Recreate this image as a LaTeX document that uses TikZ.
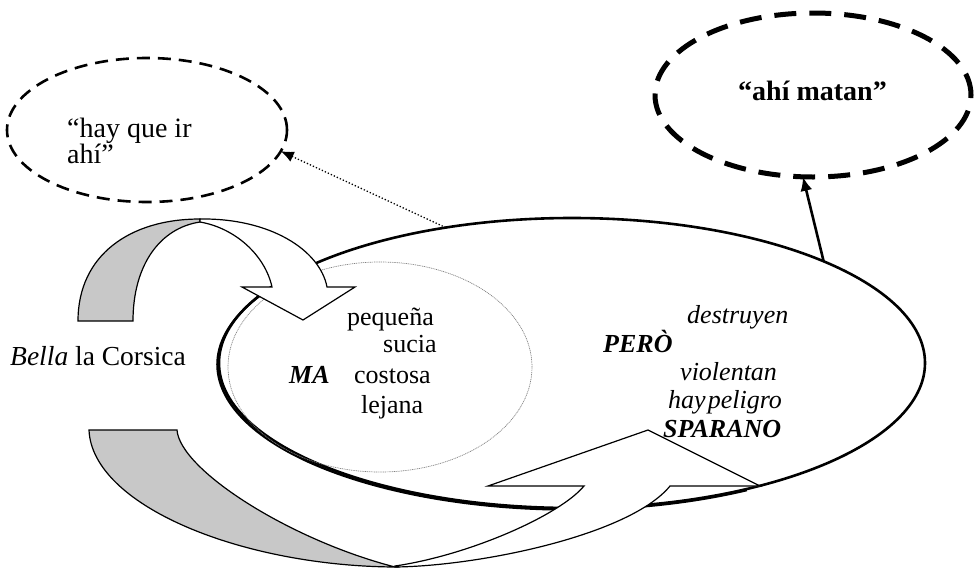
\documentclass[tikz,border=0pt]{standalone}
\usepackage{fontspec}
\setmainfont{Liberation Serif}
\usetikzlibrary{shapes.geometric,arrows.meta}
\definecolor{bandgray}{RGB}{200,200,200}
\begin{document}
\begin{tikzpicture}[x=1pt,y=-1pt,
  txt/.style={font=\fontsize{26}{30}\selectfont, inner sep=0pt, anchor=base west},
  itxt/.style={font=\fontsize{26}{30}\selectfont\itshape, inner sep=0pt, anchor=base west},
  bitxt/.style={font=\fontsize{26}{30}\selectfont\bfseries\itshape, inner sep=0pt, anchor=base west},
  oval/.style={ellipse, inner sep=0pt, outer sep=0pt},
  band/.style={line width=1.2pt, line join=miter}]
\useasboundingbox (0,0) rectangle (975,568);
% ellipses
\node[oval, draw, line width=2.6pt, minimum width=706pt, minimum height=290pt] (big) at (572,363) {};
\draw[line width=2.2pt] ([xshift=-1.6pt,yshift=-1.6pt]big.center) ++(150:353pt and 145pt)
  arc[start angle=150, end angle=300, x radius=353pt, y radius=145pt];
\node[oval, draw=gray, line width=0.7pt, dash pattern=on 1pt off 0.8pt, minimum width=304pt, minimum height=210pt] (inner) at (380,367) {};
\node[oval, draw, line width=2.6pt, dash pattern=on 13pt off 8pt, minimum width=280pt, minimum height=144pt] (e1) at (147,130) {};
\node[oval, draw, line width=5pt, dash pattern=on 22pt off 13pt, minimum width=316pt, minimum height=164pt] (e2) at (813,95) {};
% upper curved arrow
\filldraw[band, fill=bandgray] (78,321) .. controls (78,255) and (130,219) .. (200,219) -- (200,222) .. controls (160,228) and (133,265) .. (133,321) -- cycle;
\filldraw[band, fill=white] (200,219) .. controls (270,218) and (320,250) .. (327,287) -- (355,287) -- (303,320) -- (242,287) -- (272,287) .. controls (265,255) and (235,228) .. (200,222) -- cycle;
% lower curved arrow
\filldraw[band, fill=bandgray] (89,430) -- (177,430) .. controls (180,470) and (290,540) .. (395,567) .. controls (240,566) and (92,505) .. (89,430) -- cycle;
\filldraw[band, fill=white] (395,567) .. controls (480,566) and (630,535) .. (670,486) -- (760,486) -- (648,430) -- (488,486) -- (584,486) .. controls (560,515) and (470,555) .. (395,566) -- cycle;
% connectors
\draw[line width=2.6pt, -{Latex[length=14pt,width=12pt]}] (big.22.9) -- (e2.263.2);
\draw[line width=1.3pt, dotted, -{Latex[length=13pt,width=11pt]}] (big.133.7) -- (e1.-9.3);
% texts
\node[font=\fontsize{28}{26}\selectfont, inner sep=0pt, anchor=base west, align=left] (t1) at (67,163) {“hay que ir\\ahí”};
\node[font=\fontsize{28}{30}\selectfont\bfseries, inner sep=0pt, anchor=base west] (t2) at (738,100) {“ahí matan”};
\node[font=\fontsize{27.5}{30}\selectfont, inner sep=0pt, anchor=base west] (bella) at (10,365) {\textit{Bella} la Corsica};
\node[txt] (peq) at (347,325) {pequeña};
\node[txt] (suc) at (383,352) {sucia};
\node[bitxt] (ma) at (289,383) {MA};
\node[txt] (cos) at (354,383) {costosa};
\node[txt] (lej) at (361,413) {lejana};
\node[itxt] (des) at (687,323) {destruyen};
\node[bitxt] (pero) at (603,352) {PERÒ};
\node[itxt] (vio) at (680,380) {violentan};
\node[itxt] (hay) at (668,408) {hay\hspace{0.08em}peligro};
\node[bitxt] (spa) at (663,437) {SPARANO};
\end{tikzpicture}
\end{document}
